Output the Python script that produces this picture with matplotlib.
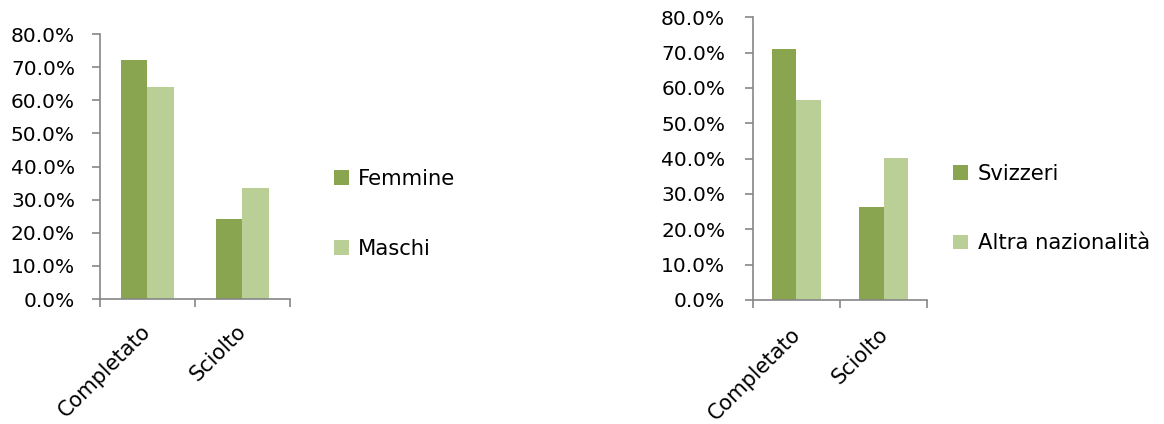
import matplotlib
matplotlib.use("Agg")
import matplotlib.pyplot as plt
from matplotlib.patches import Patch
from matplotlib.ticker import FuncFormatter, FixedLocator
import numpy as np

plt.rcParams['font.family'] = ['DejaVu Sans']

categories = ["Completato", "Sciolto"]
femmine = [72.2, 24.2]
maschi = [64.0, 33.6]
svizzeri = [71.0, 26.3]
altra = [56.5, 40.1]
yticks = [0, 10, 20, 30, 40, 50, 60, 70, 80]

dark = "#8AA54F"
light = "#B9CF96"
spine_c = "#868686"
fs = 14.5
xfs = 15.0
lfs = 15.2

fig = plt.figure(figsize=(11.64, 4.24), dpi=100)

def draw(rect, s1, s2, labels, leg_anchor, ypad):
    ax = fig.add_axes(rect)
    x = np.arange(len(categories))
    w = 0.28
    ax.bar(x - w/2, s1, w, color=dark, label=labels[0])
    ax.bar(x + w/2, s2, w, color=light, label=labels[1])
    ax.set_xlim(-0.5, len(categories) - 0.5)
    ax.set_ylim(0, 80)
    ax.set_yticks(yticks)
    ax.yaxis.set_major_formatter(FuncFormatter(lambda v, p: f"{v:.1f}%"))
    ax.xaxis.set_major_locator(FixedLocator([-0.5, 0.5, 1.5]))
    ax.xaxis.set_major_formatter(FuncFormatter(lambda v, p: ""))
    for xi, c in zip(x, categories):
        ax.text(xi - 0.07, -0.085, c, transform=ax.get_xaxis_transform(), rotation=45,
                ha='right', va='top', rotation_mode='anchor', fontsize=xfs)
    for s in ['top', 'right']:
        ax.spines[s].set_visible(False)
    for s in ['left', 'bottom']:
        ax.spines[s].set_color(spine_c)
        ax.spines[s].set_linewidth(1.2)
    ax.tick_params(axis='both', colors=spine_c, labelcolor='black', labelsize=fs,
                   length=6, width=1.2, direction='out')
    ax.tick_params(axis='y', pad=ypad)
    handles = [Patch(facecolor=dark), Patch(facecolor=light)]
    fig.legend(handles, labels, loc='center left', bbox_to_anchor=leg_anchor,
               frameon=False, fontsize=lfs, handlelength=0.7, handleheight=0.7,
               handletextpad=0.45, labelspacing=2.35, borderpad=0, borderaxespad=0)
    return ax

draw([0.0859, 0.2948, 0.1632, 0.625], femmine, maschi, ["Femmine", "Maschi"], (0.287, 0.496), 12)
draw([0.6469, 0.2925, 0.1495, 0.6667], svizzeri, altra, ["Svizzeri", "Altra nazionalità"], (0.819, 0.508), 14)

fig.savefig("out.png", dpi=100)
